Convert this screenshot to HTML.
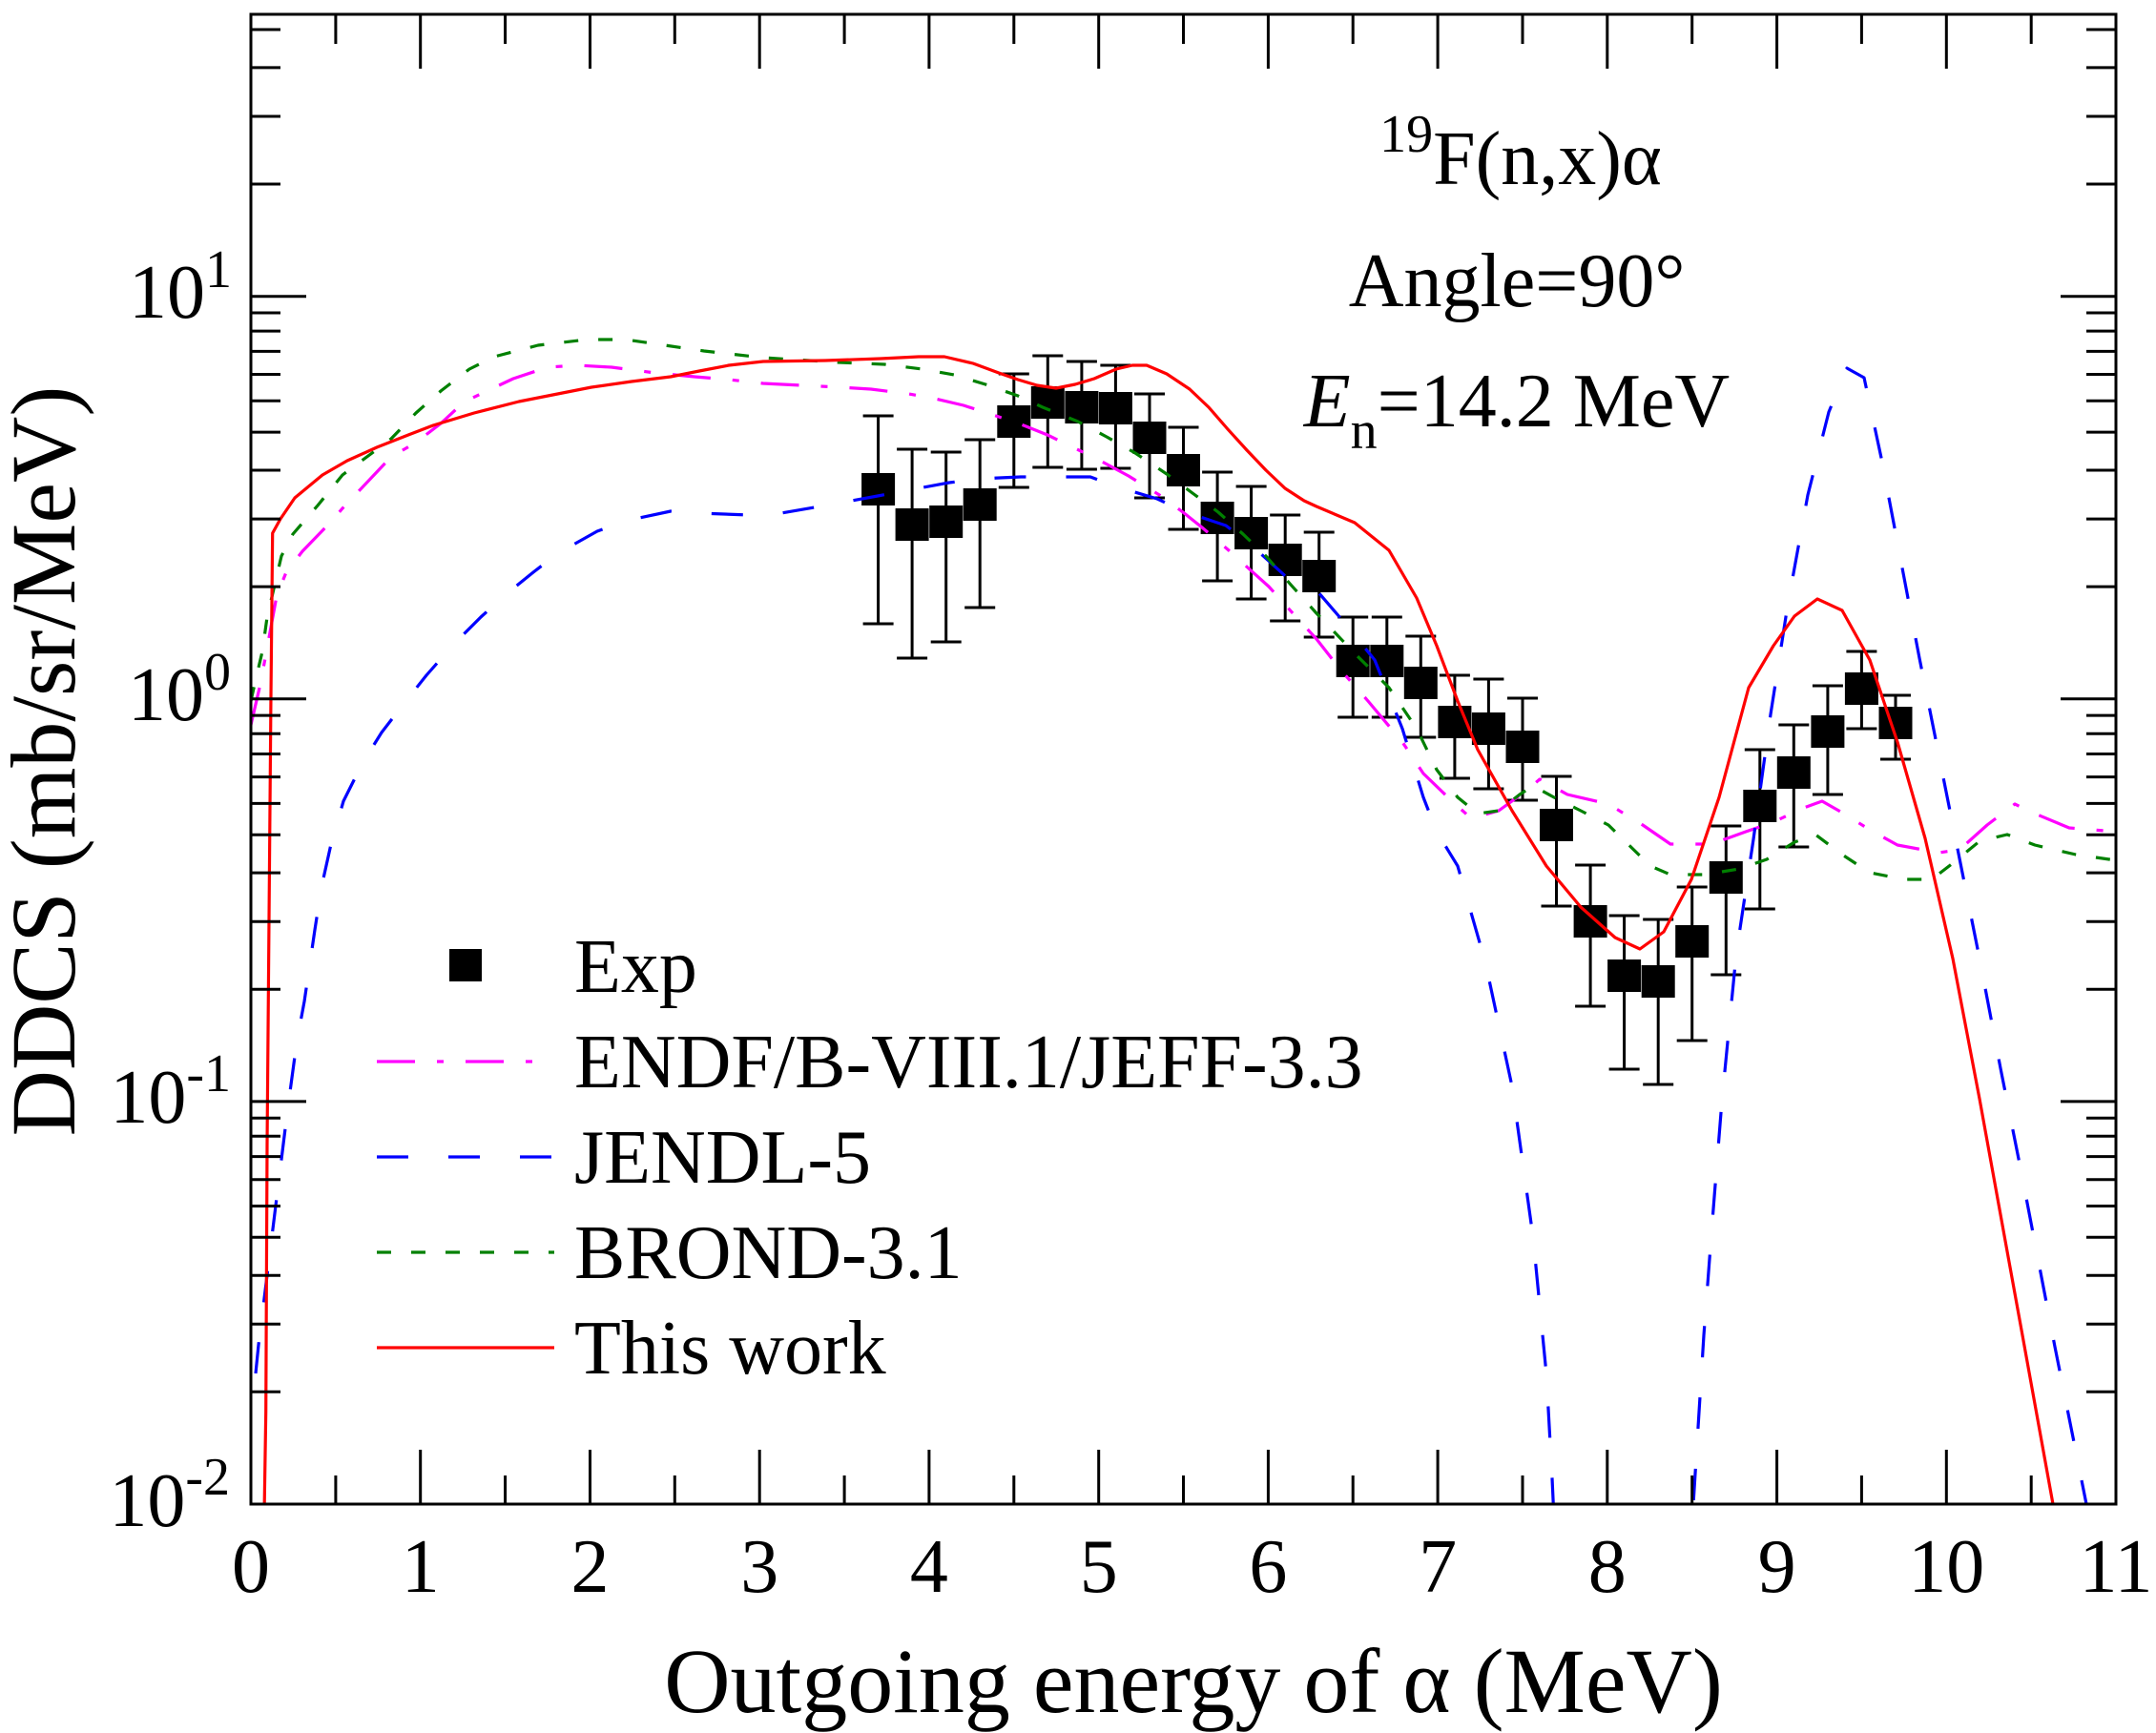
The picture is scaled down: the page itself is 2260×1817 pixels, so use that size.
<!DOCTYPE html>
<html>
<head>
<meta charset="utf-8">
<style>
  html,body{margin:0;padding:0;background:#fff;}
  svg{display:block;}
  text{font-family:"Liberation Serif","Times New Roman",serif;fill:#000;}
</style>
</head>
<body>
<svg xmlns="http://www.w3.org/2000/svg" width="2260" height="1817" viewBox="0 0 2260 1817">
<rect x="0" y="0" width="2260" height="1817" fill="#fff"/>
<defs>
  <clipPath id="pc"><rect x="263" y="15" width="1955" height="1562"/></clipPath>
</defs>

<!-- experimental data -->
<g clip-path="url(#pc)">
<path fill="none" stroke="#000" stroke-width="3" d="
M920.6 436V654M904.6 436h32M904.6 654h32
M956.1 471V690M940.1 471h32M940.1 690h32
M991.7 474V673M975.7 474h32M975.7 673h32
M1027.2 461V637M1011.2 461h32M1011.2 637h32
M1062.8 392V511M1046.8 392h32M1046.8 511h32
M1098.3 373V490M1082.3 373h32M1082.3 490h32
M1133.9 379V492M1117.9 379h32M1117.9 492h32
M1169.4 383V491M1153.4 383h32M1153.4 491h32
M1205 413V522M1189 413h32M1189 522h32
M1240.5 448V555M1224.5 448h32M1224.5 555h32
M1276.1 495V609M1260.1 495h32M1260.1 609h32
M1311.6 510V628M1295.6 510h32M1295.6 628h32
M1347.2 540V651M1331.2 540h32M1331.2 651h32
M1382.7 558V668M1366.7 558h32M1366.7 668h32
M1418.2 647V752M1402.2 647h32M1402.2 752h32
M1453.8 647V752M1437.8 647h32M1437.8 752h32
M1489.3 667V773M1473.3 667h32M1473.3 773h32
M1524.9 708V816M1508.9 708h32M1508.9 816h32
M1560.4 712V827M1544.4 712h32M1544.4 827h32
M1596 732V839M1580 732h32M1580 839h32
M1631.5 814V950M1615.5 814h32M1615.5 950h32
M1667.1 907V1055M1651.1 907h32M1651.1 1055h32
M1702.6 960V1121M1686.6 960h32M1686.6 1121h32
M1738.2 964V1137M1722.2 964h32M1722.2 1137h32
M1773.7 930V1091M1757.7 930h32M1757.7 1091h32
M1809.3 866V1022M1793.3 866h32M1793.3 1022h32
M1844.8 786V953M1828.8 786h32M1828.8 953h32
M1880.3 760V888M1864.3 760h32M1864.3 888h32
M1915.9 719V833M1899.9 719h32M1899.9 833h32
M1951.4 683V764M1935.4 683h32M1935.4 764h32
M1987 729V796M1971 729h32M1971 796h32"/>
<g fill="#000">
<rect x="903.1" y="496" width="35" height="34"/>
<rect x="938.6" y="533" width="35" height="34"/>
<rect x="974.2" y="530" width="35" height="34"/>
<rect x="1009.7" y="512" width="35" height="34"/>
<rect x="1045.3" y="425" width="35" height="34"/>
<rect x="1080.8" y="405" width="35" height="34"/>
<rect x="1116.4" y="410" width="35" height="34"/>
<rect x="1151.9" y="411" width="35" height="34"/>
<rect x="1187.5" y="442" width="35" height="34"/>
<rect x="1223" y="476" width="35" height="34"/>
<rect x="1258.6" y="526" width="35" height="34"/>
<rect x="1294.1" y="542" width="35" height="34"/>
<rect x="1329.7" y="570" width="35" height="34"/>
<rect x="1365.2" y="587" width="35" height="34"/>
<rect x="1400.7" y="676" width="35" height="34"/>
<rect x="1436.3" y="676" width="35" height="34"/>
<rect x="1471.8" y="699" width="35" height="34"/>
<rect x="1507.4" y="740" width="35" height="34"/>
<rect x="1542.9" y="747" width="35" height="34"/>
<rect x="1578.5" y="766" width="35" height="34"/>
<rect x="1614" y="848" width="35" height="34"/>
<rect x="1649.6" y="949" width="35" height="34"/>
<rect x="1685.1" y="1006" width="35" height="34"/>
<rect x="1720.7" y="1012" width="35" height="34"/>
<rect x="1756.2" y="970" width="35" height="34"/>
<rect x="1791.8" y="903" width="35" height="34"/>
<rect x="1827.3" y="828" width="35" height="34"/>
<rect x="1862.8" y="793" width="35" height="34"/>
<rect x="1898.4" y="750" width="35" height="34"/>
<rect x="1933.9" y="705" width="35" height="34"/>
<rect x="1969.5" y="741" width="35" height="34"/>
</g>

<!-- ENDF/B-VIII.1 (magenta dash-dot) -->
<polyline fill="none" stroke="#ff00ff" stroke-width="3.2" stroke-dasharray="40 23 7 23" stroke-linejoin="round" points="
263,760 273,717 283,663 290,625 300,600 317,578 347,547 359,533 410,479 436,464 462,444 487,421 538,397 574,385 605,383 641,385 687,391 728,395 764,398 800,402 880,406 913,408 953,413 980,418 1010,425 1047,437 1073,446 1098,456 1133,473 1157,485 1183,499 1217,520 1240,537 1260,553 1288,577 1310,597 1330,615 1357,645 1380,670 1405,702 1434,735 1470,778 1492,811 1521,839 1542,858 1571,850 1600,829 1614,817 1643,833 1686,843 1722,865 1751,885 1794,885 1830,872 1859,862 1888,848 1910,840 1931,852 1960,870 1989,886 2032,894 2054,891 2083,865 2112,843 2133,853 2169,868 2218,872"/>

<!-- JENDL-5 (blue long dash) -->
<polyline fill="none" stroke="#0000ff" stroke-width="3.2" stroke-dasharray="33 42" stroke-linejoin="round" points="
268,1440 271,1410 301,1167 311,1093 319,1050 330,975 337,930 347,885 360,840 380,800 400,768 420,742 447,708 476,675 504,647 533,621 559,600 585,580 626,557 656,546 703,536 733,538 785,540 807,540 865,530 920,520 952,514 995,506 1027,502 1070,500 1102,500 1143,500 1173,511 1213,523 1243,537 1285,551 1310,570 1343,600 1357,613 1381,620 1412,656 1441,692 1470,764 1492,836 1506,872 1528,908 1557,1009 1585,1139 1607,1297 1621,1441 1627,1550 1633,1680 1770,1680 1775,1577 1786,1400 1795,1280 1805,1154 1820,1000 1838,880 1856,749 1874,634 1895,519 1917,432 1936,386 1954,396 1972,480 1992,585 2012,690 2032,790 2054,900 2076,1010 2097,1120 2119,1230 2154,1412 2187,1577 2192,1610"/>

<!-- BROND-3.1 (green short dash) -->
<polyline fill="none" stroke="#008000" stroke-width="3.2" stroke-dasharray="15 21" stroke-linejoin="round" points="
263,735 267,717 275,683 280,647 288,613 295,583 307,560 333,530 359,498 390,475 410,460 436,433 462,410 492,387 518,374 564,362 615,356 656,356 697,362 738,368 800,375 880,380 927,382 967,387 1000,393 1033,403 1067,415 1093,427 1130,442 1160,458 1190,475 1223,497 1250,517 1277,537 1303,560 1327,583 1353,613 1380,643 1420,685 1456,721 1485,764 1506,807 1528,836 1549,853 1571,850 1593,833 1607,824 1629,836 1657,850 1686,865 1730,908 1751,917 1787,917 1823,911 1852,901 1881,883 1903,875 1931,896 1960,915 1996,922 2025,922 2047,905 2075,882 2104,875 2133,886 2176,896 2218,902"/>

<!-- This work (red solid) -->
<polyline fill="none" stroke="#ff0000" stroke-width="3.2" stroke-linejoin="round" points="
276.8,1600 278.7,1480 280,1200 283.9,740 285.7,559 294,544 309,522 338,498 364,483 395,469 428,456 454,446 497,433 544,421 620,406 662,400 703,395 733,389 764,383 800,379 865,378 923,376 963,374 990,374 1020,381 1047,391 1067,398 1087,404 1107,407 1127,403 1147,397 1170,387 1187,383 1202,383 1223,392 1247,408 1267,427 1287,450 1307,472 1327,493 1347,512 1367,525 1380,531 1420,548 1456,577 1485,627 1506,677 1528,735 1549,786 1585,850 1621,908 1657,951 1693,983 1719,995 1744,977 1773,922 1802,836 1833,721 1859,677 1881,646 1905,628 1931,640 1960,692 1989,778 2018,879 2047,1005 2075,1152 2104,1312 2120,1400 2152,1577 2156,1600"/>
</g>

<!-- frame -->
<rect x="263" y="15" width="1955" height="1562" fill="none" stroke="#000" stroke-width="3"/>

<!-- ticks -->
<path fill="none" stroke="#000" stroke-width="3" d="
M440.7 1577V1520M618.5 1577V1520M796.2 1577V1520M973.9 1577V1520M1151.7 1577V1520M1329.4 1577V1520M1507.1 1577V1520M1684.8 1577V1520M1862.6 1577V1520M2040.3 1577V1520
M440.7 15V72M618.5 15V72M796.2 15V72M973.9 15V72M1151.7 15V72M1329.4 15V72M1507.1 15V72M1684.8 15V72M1862.6 15V72M2040.3 15V72
M351.9 1577V1547M529.6 1577V1547M707.3 1577V1547M885.1 1577V1547M1062.8 1577V1547M1240.5 1577V1547M1418.2 1577V1547M1596 1577V1547M1773.7 1577V1547M1951.4 1577V1547M2129.2 1577V1547
M351.9 15V46M529.6 15V46M707.3 15V46M885.1 15V46M1062.8 15V46M1240.5 15V46M1418.2 15V46M1596 15V46M1773.7 15V46M1951.4 15V46M2129.2 15V46
M263 310.7H321M263 732.8H321M263 1154.9H321
M2218 310.7H2160M2218 732.8H2160M2218 1154.9H2160
M263 1459.3H294M263 1388.3H294M263 1337.2H294M263 1297.3H294M263 1264.5H294M263 1236.7H294M263 1212.6H294M263 1191.3H294M263 1172.2H294
M263 1037.2H294M263 966.2H294M263 915.1H294M263 875.2H294M263 842.4H294M263 814.6H294M263 790.5H294M263 769.2H294M263 750.1H294
M263 615.1H294M263 544.1H294M263 493H294M263 453.1H294M263 420.3H294M263 392.5H294M263 368.4H294M263 347.1H294M263 328H294
M263 193H294M263 122H294M263 70.9H294M263 31H294
M2218 1459.3H2187M2218 1388.3H2187M2218 1337.2H2187M2218 1297.3H2187M2218 1264.5H2187M2218 1236.7H2187M2218 1212.6H2187M2218 1191.3H2187M2218 1172.2H2187
M2218 1037.2H2187M2218 966.2H2187M2218 915.1H2187M2218 875.2H2187M2218 842.4H2187M2218 814.6H2187M2218 790.5H2187M2218 769.2H2187M2218 750.1H2187
M2218 615.1H2187M2218 544.1H2187M2218 493H2187M2218 453.1H2187M2218 420.3H2187M2218 392.5H2187M2218 368.4H2187M2218 347.1H2187M2218 328H2187
M2218 193H2187M2218 122H2187M2218 70.9H2187M2218 31H2187"/>

<!-- x tick labels -->
<g font-size="80" text-anchor="middle">
<text x="263" y="1669">0</text>
<text x="440.7" y="1669">1</text>
<text x="618.5" y="1669">2</text>
<text x="796.2" y="1669">3</text>
<text x="973.9" y="1669">4</text>
<text x="1151.7" y="1669">5</text>
<text x="1329.4" y="1669">6</text>
<text x="1507.1" y="1669">7</text>
<text x="1684.8" y="1669">8</text>
<text x="1862.6" y="1669">9</text>
<text x="2040.3" y="1669">10</text>
<text x="2218" y="1669">11</text>
</g>

<!-- y tick labels -->
<g font-size="80" text-anchor="end">
<text x="243" y="333">10<tspan font-size="56" dy="-32">1</tspan></text>
<text x="242" y="755">10<tspan font-size="56" dy="-32">0</tspan></text>
<text x="242" y="1177">10<tspan font-size="56" dy="-33">-1</tspan></text>
<text x="241" y="1600">10<tspan font-size="56" dy="-33">-2</tspan></text>
</g>

<!-- axis titles -->
<text x="1251" y="1795" font-size="96" text-anchor="middle">Outgoing energy of α (MeV)</text>
<text transform="translate(78,798) rotate(-90)" font-size="96" text-anchor="middle">DDCS (mb/sr/MeV)</text>

<!-- annotation -->
<g font-size="80" text-anchor="middle">
<text x="1594" y="193"><tspan font-size="56" dy="-34">19</tspan><tspan dy="34">F(n,x)α</tspan></text>
<text x="1590" y="321">Angle=90°</text>
<text x="1590" y="447"><tspan font-style="italic">E</tspan><tspan font-size="56" dy="23">n</tspan><tspan dy="-23">=14.2 MeV</tspan></text>
</g>

<!-- legend -->
<rect x="471" y="995" width="34" height="34" fill="#000"/>
<line x1="395" y1="1113" x2="581" y2="1113" stroke="#ff00ff" stroke-width="3.2" stroke-dasharray="40 23 7 23"/>
<line x1="395" y1="1213" x2="581" y2="1213" stroke="#0000ff" stroke-width="3.2" stroke-dasharray="33 42"/>
<line x1="395" y1="1313" x2="581" y2="1313" stroke="#008000" stroke-width="3.2" stroke-dasharray="15 21"/>
<line x1="395" y1="1413" x2="581" y2="1413" stroke="#ff0000" stroke-width="3.2"/>
<g font-size="80">
<text x="602" y="1040">Exp</text>
<text x="602" y="1140">ENDF/B-VIII.1/JEFF-3.3</text>
<text x="602" y="1240">JENDL-5</text>
<text x="602" y="1340">BROND-3.1</text>
<text x="602" y="1440">This work</text>
</g>
</svg>
</body>
</html>
